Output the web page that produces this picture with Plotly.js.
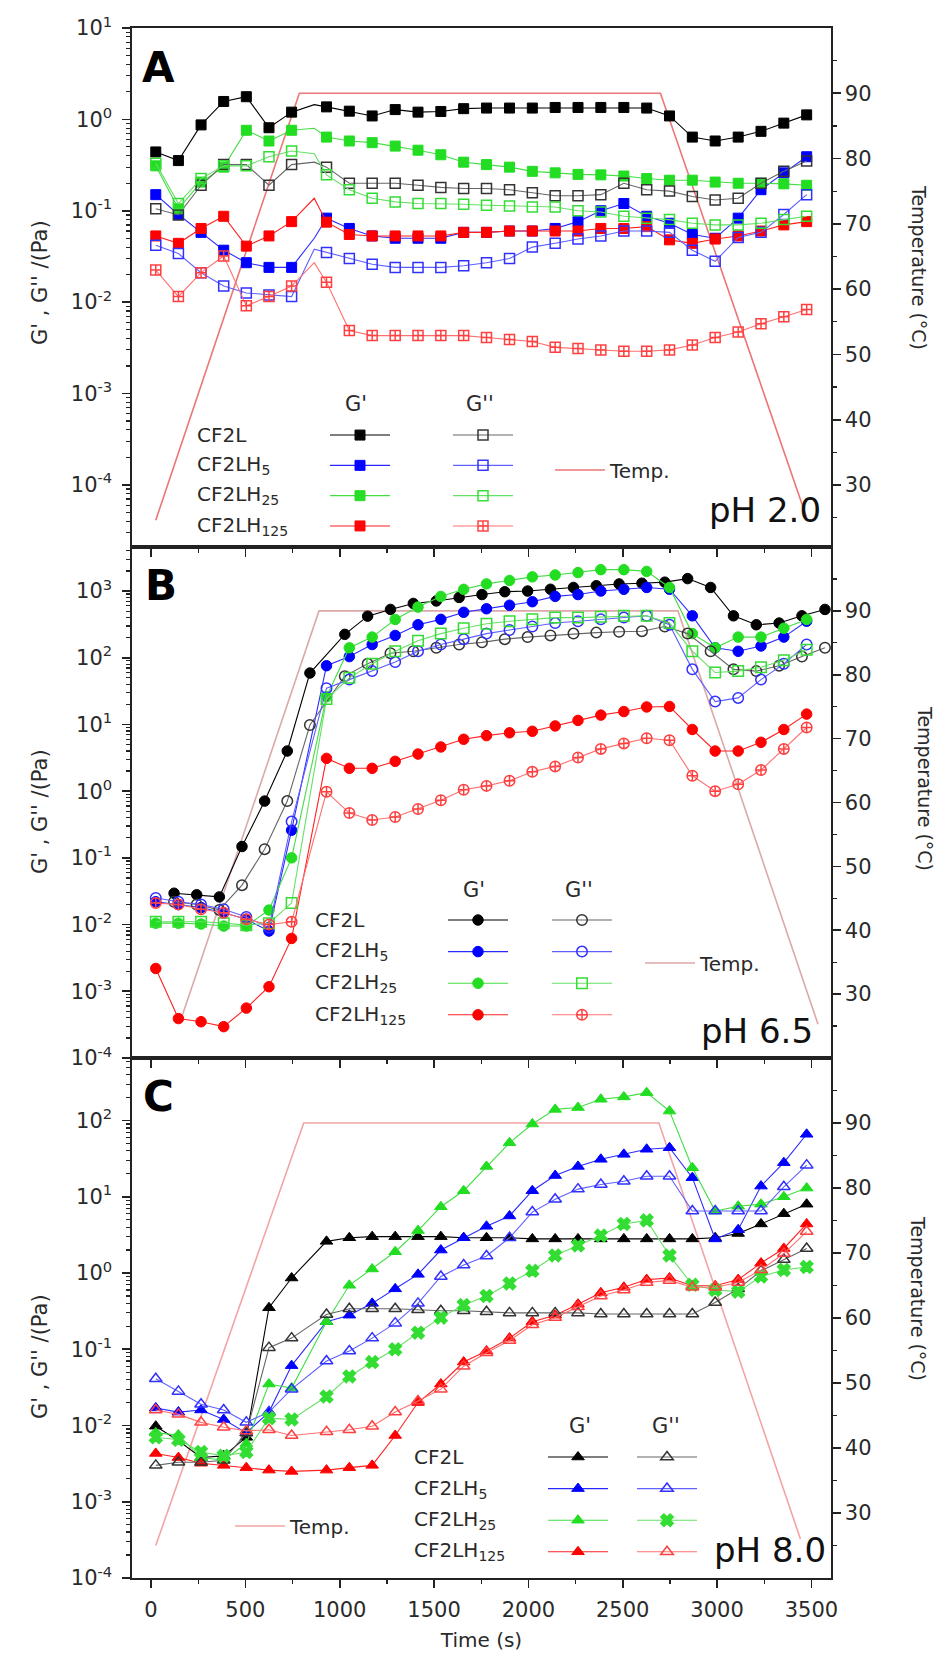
<!DOCTYPE html>
<html><head><meta charset="utf-8">
<script src="https://cdn.plot.ly/plotly-3.0.1.min.js"></script>
<style>html,body{margin:0;padding:0;background:#fff;}#chart{width:944px;height:1659px;}</style>
</head><body><div id="chart"></div>
<script>
// ---------------- DATA ----------------
const SAMPLES = ['CF2L','CF2LH<sub>5</sub>','CF2LH<sub>25</sub>','CF2LH<sub>125</sub>'];
const T   = [25,145,265,385,505,625,745,930,1051,1172,1294,1415,1536,1657,1778,1900,2021,2142,2263,2384,2506,2627,2748,2869,2990,3112,3233,3354,3475];
const T_A = [25,145,265,385,505,625,745,865,930,1051,1172,1294,1415,1536,1657,1778,1900,2021,2142,2263,2384,2506,2627,2748,2869,2990,3112,3233,3354,3475];
const A_LINE_ONLY_TIME = 865;
const T_B_CF2L = [122,242,362,482,602,722,842,1027,1148,1269,1390,1512,1633,1754,1875,1996,2117,2239,2360,2481,2602,2723,2844,2966,3087,3208,3329,3450,3572];

const X_TICKS = [0,500,1000,1500,2000,2500,3000,3500];
const TEMP_TICKS = [30,40,50,60,70,80,90];

// Panel A (pH 2.0)
const A_GP_CF2L  = [0.44,0.354,0.87,1.57,1.77,0.81,1.2,1.45,1.37,1.23,1.09,1.28,1.2,1.22,1.31,1.33,1.33,1.33,1.35,1.35,1.35,1.35,1.33,1.09,0.64,0.58,0.64,0.74,0.91,1.12];
const A_GPP_CF2L = [0.105,0.09,0.19,0.32,0.32,0.19,0.32,0.34,0.30,0.20,0.20,0.20,0.19,0.18,0.175,0.175,0.17,0.157,0.146,0.146,0.15,0.2,0.17,0.164,0.143,0.131,0.137,0.2,0.27,0.35];
const A_GP_H5    = [0.15,0.091,0.058,0.037,0.027,0.024,0.024,0.05,0.083,0.064,0.053,0.05,0.05,0.05,0.058,0.058,0.06,0.06,0.064,0.076,0.1,0.12,0.087,0.073,0.055,0.05,0.083,0.17,0.26,0.39];
const A_GPP_H5   = [0.042,0.034,0.021,0.015,0.0126,0.012,0.0115,0.038,0.035,0.03,0.026,0.024,0.024,0.024,0.025,0.027,0.03,0.04,0.044,0.049,0.053,0.06,0.06,0.058,0.037,0.028,0.051,0.058,0.091,0.15];
const A_GP_H25   = [0.31,0.105,0.206,0.30,0.76,0.58,0.76,0.8,0.64,0.58,0.556,0.51,0.46,0.41,0.34,0.32,0.30,0.27,0.26,0.25,0.247,0.24,0.225,0.216,0.216,0.206,0.2,0.2,0.197,0.19];
const A_GPP_H25  = [0.33,0.12,0.225,0.31,0.31,0.39,0.45,0.42,0.247,0.17,0.137,0.125,0.12,0.12,0.118,0.115,0.113,0.11,0.11,0.1,0.097,0.087,0.083,0.08,0.073,0.07,0.07,0.073,0.08,0.087];
const A_GP_H125  = [0.053,0.044,0.064,0.087,0.041,0.053,0.076,0.137,0.075,0.055,0.053,0.053,0.053,0.053,0.058,0.058,0.06,0.06,0.06,0.06,0.064,0.064,0.067,0.048,0.044,0.049,0.053,0.06,0.07,0.076];
const A_GPP_H125 = [0.0224,0.0115,0.021,0.032,0.0091,0.0115,0.015,0.027,0.0165,0.0049,0.0043,0.0043,0.0043,0.0043,0.0043,0.0041,0.0039,0.0037,0.0032,0.0031,0.003,0.0029,0.0029,0.003,0.0034,0.0041,0.0047,0.0058,0.0069,0.0083];
const TEMP_A_T = [25,786,2700,3475];
const TEMP_A   = [24.6,90,90,25];

// Panel B (pH 6.5)
const B_GP_CF2L  = [0.0295,0.028,0.026,0.148,0.71,4.0,59,224,420,530,652,710,802,885,976,1000,1063,1131,1202,1277,1309,1358,1535,1131,425,312,331,425,530];
const B_GPP_CF2L = [0.022,0.02,0.0166,0.039,0.135,0.71,9.8,53,81,117,125,141,158,170,190,204,216,230,238,245,250,294,230,125,67,63,76,104,141];
const B_GP_H5    = [0.022,0.02,0.018,0.015,0.012,0.008,0.26,76,104,158,216,312,376,480,542,612,692,832,885,1000,1063,1131,1063,425,141,125,150,204,353];
const B_GPP_H5   = [0.025,0.022,0.02,0.017,0.013,0.009,0.35,35,47,63,86,125,158,190,230,260,294,331,353,376,400,425,312,67,22,25,47,81,158];
const B_GP_H25   = [0.0105,0.0105,0.0102,0.0095,0.0095,0.0165,0.1,26,141,204,375,575,830,1060,1280,1440,1630,1740,1890,2090,2090,1970,1130,230,141,204,204,277,375];
const B_GPP_H25  = [0.011,0.011,0.011,0.0105,0.0098,0.0105,0.021,24,50,81,125,180,230,277,324,353,376,400,400,410,425,425,331,125,60,63,72,92,132];
const B_GP_H125  = [0.0022,0.00039,0.00035,0.000295,0.00056,0.00117,0.0062,3.1,2.2,2.2,2.8,3.6,4.6,6,6.8,7.5,7.9,9.5,11.5,13.8,15.6,18.3,18.6,8.4,4,4,5.4,8.4,14.3];
const B_GPP_H125 = [0.021,0.02,0.017,0.015,0.012,0.01,0.011,0.98,0.47,0.37,0.41,0.54,0.73,1.05,1.2,1.43,1.95,2.35,3.2,4.3,5.2,6.2,5.8,1.7,1.0,1.27,2.07,4.3,9.0];
const TEMP_B_T = [166,890,2793,3535];
const TEMP_B   = [26.7,90,90,25.3];

// Panel C (pH 8.0)
const C_GP_CF2L  = [0.0098,0.0063,0.0038,0.004,0.007,0.35,0.86,2.6,2.9,3.0,3.0,3.0,3.0,2.9,2.9,2.9,2.8,2.8,2.8,2.8,2.8,2.8,2.8,2.8,2.9,3.3,4.4,6,8];
const C_GPP_CF2L = [0.003,0.0033,0.0033,0.0035,0.008,0.105,0.14,0.285,0.34,0.34,0.34,0.33,0.32,0.32,0.31,0.3,0.3,0.3,0.3,0.29,0.29,0.29,0.29,0.29,0.41,0.62,1.07,1.5,2.1];
const C_GP_H5    = [0.017,0.015,0.016,0.012,0.008,0.015,0.061,0.23,0.28,0.4,0.62,0.96,2.0,2.9,4.1,5.6,12,19,25,31,36,42,44,17.8,2.8,3.7,13.8,28,66];
const C_GPP_H5   = [0.041,0.028,0.019,0.016,0.011,0.015,0.03,0.07,0.095,0.14,0.22,0.4,0.9,1.27,1.67,2.9,6.3,9.3,12.6,14.5,16,18.6,18.6,6.5,6.5,6.5,6.5,13.5,26];
const C_GP_H25   = [0.008,0.0075,0.0038,0.0035,0.0058,0.035,0.031,0.23,0.69,1.13,1.9,3.6,7.4,12,25,51,90,140,148,190,204,232,133,24,6.5,7.5,8,10,13];
const C_GPP_H25  = [0.007,0.0065,0.0045,0.004,0.0045,0.0125,0.012,0.024,0.044,0.068,0.1,0.165,0.26,0.38,0.5,0.73,1.07,1.7,2.3,3.1,4.4,4.9,1.7,0.7,0.6,0.57,0.9,1.1,1.2];
const C_GP_H125  = [0.0043,0.0038,0.0032,0.003,0.0028,0.0026,0.0025,0.0026,0.0028,0.003,0.0074,0.02,0.035,0.068,0.095,0.14,0.23,0.28,0.39,0.55,0.65,0.82,0.86,0.68,0.68,0.82,1.35,2.1,4.4];
const C_GPP_H125 = [0.016,0.014,0.011,0.0095,0.0085,0.0088,0.0074,0.0083,0.0088,0.0098,0.015,0.021,0.03,0.06,0.09,0.13,0.21,0.26,0.36,0.5,0.6,0.75,0.8,0.65,0.65,0.75,1.1,1.8,3.5];
const TEMP_C_T = [25,809,2692,3442];
const TEMP_C   = [25,90,90,26];

// ---------------- STYLE / LAYOUT ----------------
const FONT = 'DejaVu Sans';
const W = 944, H = 1659, ML = 132, MR = 113, MT = 28, MB = 81;
const PW = W - ML - MR, PH = H - MT - MB;
const px2x = p => (p - ML) / PW;
const py2y = p => 1 - (p - MT) / PH;
const AX = '#222';
const NBSP = '\u00a0';

const COL  = ['#000000', '#0000ff', '#22dd22', '#ff0000'];
const LCOL = ['#000000', '#2a2aff', '#44dd44', '#ff2020'];
const COL2 = ['#333333', '#3030ff', '#33dd33', '#ff4040'];
const LCOL2= ['#666666', '#6060ff', '#66e066', '#ff7070'];

const panels = [
  { xa:'x',  yt:'y',  yl:'y2', dom:[py2y(547), 1], logRange:[-4.68, 1.0], tRange:[20.5, 100],
    gpT:[T_A,T_A,T_A,T_A], gppT:[T_A,T_A,T_A,T_A],
    gp:[A_GP_CF2L,A_GP_H5,A_GP_H25,A_GP_H125], gpp:[A_GPP_CF2L,A_GPP_H5,A_GPP_H25,A_GPP_H125],
    sGP:['square','square','square','square'], sGPP:['square-open','square-open','square-open','square-cross-open'], size:10,
    tempT:TEMP_A_T, temp:TEMP_A, tempCol:'#ec7676',
    legs:['legend','legend2','legend3'], lgp:[325,414.9,21], lgpp:[448,414.9,21], ltemp:[550,450.5,20],
    letter:['A',140,68], ph:['pH 2.0',765,510], hdr:[356,480,404], lab:[195,[435,465,495,526]],
    ttl:[40,282], rttl:[919,267] },
  { xa:'x2', yt:'y3', yl:'y4', dom:[py2y(1058), py2y(547)], logRange:[-4, 3.66], tRange:[20, 100],
    gpT:[T_B_CF2L,T,T,T], gppT:[T_B_CF2L,T,T,T],
    gp:[B_GP_CF2L,B_GP_H5,B_GP_H25,B_GP_H125], gpp:[B_GPP_CF2L,B_GPP_H5,B_GPP_H25,B_GPP_H125],
    sGP:['circle','circle','circle','circle'], sGPP:['circle-open','circle-open','square-open','circle-cross-open'], size:10.5,
    tempT:TEMP_B_T, temp:TEMP_B, tempCol:'#dba9a9',
    legs:['legend4','legend5','legend6'], lgp:[443,899.2,22], lgpp:[547,899.2,22], ltemp:[640,943.5,20],
    letter:['B',143,585], ph:['pH 6.5',757,1031], hdr:[474,579,890], lab:[313,[920,951,983,1015]],
    ttl:[40,811], rttl:[925,788] },
  { xa:'x3', yt:'y5', yl:'y6', dom:[0, py2y(1058)], logRange:[-4, 2.82], tRange:[20, 100],
    gpT:[T,T,T,T], gppT:[T,T,T,T],
    gp:[C_GP_CF2L,C_GP_H5,C_GP_H25,C_GP_H125], gpp:[C_GPP_CF2L,C_GPP_H5,C_GPP_H25,C_GPP_H125],
    sGP:['triangle-up','triangle-up','triangle-up','triangle-up'], sGPP:['triangle-up-open','triangle-up-open','x','triangle-up-open'], size:11,
    tempT:TEMP_C_T, temp:TEMP_C, tempCol:'#f2a4a4',
    legs:['legend7','legend8','legend9'], lgp:[543,1436.2,22], lgpp:[632,1436.2,22], ltemp:[230,1506.5,20],
    letter:['C',141,1096], ph:['pH 8.0',770,1550], hdr:[580,666,1426], lab:[412,[1457,1489,1520,1551]],
    ttl:[40,1356], rttl:[918,1298] }
];

const data = [];
const layout = {
  width: W, height: H, margin:{l:ML, r:MR, t:MT, b:MB, pad:0},
  paper_bgcolor:'#fff', plot_bgcolor:'rgba(0,0,0,0)', showlegend:true, hovermode:false,
  font:{family:FONT, color:AX}, annotations:[]
};

function legendCfg(lx, top, size, iw){
  return {x:px2x(lx), y:py2y(top), xanchor:'left', yanchor:'top', bgcolor:'rgba(0,0,0,0)', borderwidth:0,
          font:{family:FONT, size:size, color:'#2a2a2a'}, itemwidth:iw, tracegroupgap:0, traceorder:'normal',
          itemclick:false, itemdoubleclick:false};
}
function ann(text, x, y, o){
  return Object.assign({text:text, x:px2x(x), y:py2y(y), xref:'paper', yref:'paper', showarrow:false,
    xanchor:'center', yanchor:'middle', font:{family:FONT, size:20, color:'#2a2a2a'}}, o||{});
}

panels.forEach((p, pi) => {
  const xk = p.xa === 'x' ? 'xaxis' : 'xaxis' + p.xa.slice(1);
  const ytk = p.yt === 'y' ? 'yaxis' : 'yaxis' + p.yt.slice(1);
  const ylk = 'yaxis' + p.yl.slice(1);
  const last = pi === panels.length - 1;
  layout[xk] = {anchor:p.yt, domain:[0,1], range:[-101,3604], showline:true, mirror:true, linecolor:AX, linewidth:1.6,
    ticks:'outside', ticklen:8, tickwidth:1.6, tickcolor:AX, tickmode:'array', tickvals:X_TICKS, ticktext:X_TICKS.map(String),
    showticklabels:last, tickfont:{family:FONT, size:21, color:'#2a2a2a'}, ticklabelstandoff:4,
    minor:{tickmode:'linear', tick0:250, dtick:500, ticks:'outside', ticklen:4, tickwidth:1.3, tickcolor:AX, showgrid:false},
    showgrid:false, zeroline:false, automargin:false, fixedrange:true};
  if (last) layout[xk].title = {text:'Time (s)', font:{family:FONT, size:20, color:'#2a2a2a'}, standoff:12};
  layout[ytk] = {anchor:p.xa, domain:p.dom, side:'right', range:p.tRange, showline:true, linecolor:AX, linewidth:1.6,
    ticks:'outside', ticklen:8, tickwidth:1.6, tickcolor:AX, tickmode:'array', tickvals:TEMP_TICKS, ticktext:TEMP_TICKS.map(String),
    tickfont:{family:FONT, size:21, color:'#2a2a2a'},
    minor:{tickmode:'array', tickvals:TEMP_TICKS.map(v => v - 5).concat([95]), ticks:'outside', ticklen:4, tickwidth:1.3, tickcolor:AX, showgrid:false},
    showgrid:false, zeroline:false, automargin:false, fixedrange:true};
  const decades = [], decLabels = [], minors = [];
  for (let e = Math.floor(p.logRange[0]); e <= Math.ceil(p.logRange[1]); e++) {
    if (e >= p.logRange[0] - 1e-9 && e <= p.logRange[1] + 1e-9) { decades.push(Math.pow(10, e)); decLabels.push('10<sup>' + e + '</sup>'); }
    for (let m = 2; m <= 9; m++) minors.push(m * Math.pow(10, e));
  }
  layout[ylk] = {overlaying:p.yt, anchor:p.xa, side:'left', type:'log', range:p.logRange, showline:true, linecolor:AX, linewidth:1.6,
    ticks:'outside', ticklen:8, tickwidth:1.6, tickcolor:AX, tickmode:'array', tickvals:decades, ticktext:decLabels,
    tickfont:{family:FONT, size:21, color:'#2a2a2a'}, ticklabelstandoff:6,
    minor:{tickmode:'array', tickvals:minors, ticks:'outside', ticklen:4, tickwidth:1.2, tickcolor:AX, showgrid:false},
    showgrid:false, zeroline:false, automargin:false, fixedrange:true};

  // temperature line (base subplot, drawn beneath data)
  data.push({type:'scatter', mode:'lines', name:'Temp.', x:p.tempT, y:p.temp, xaxis:p.xa, yaxis:p.yt,
    line:{color:p.tempCol, width:1.6}, legend:p.legs[2]});

  const opac = t => t.map(v => v === A_LINE_ONLY_TIME ? 0 : 1);
  for (let i = 0; i < 4; i++) {
    data.push({type:'scatter', mode:'lines+markers', name:NBSP, x:p.gpT[i], y:p.gp[i], xaxis:p.xa, yaxis:p.yl,
      line:{color:LCOL[i], width:1.1},
      marker:{symbol:p.sGP[i], size:p.size, color:COL[i], opacity:opac(p.gpT[i]), line:{color:COL[i], width:1}},
      legend:p.legs[0]});
  }
  for (let i = 0; i < 4; i++) {
    data.push({type:'scatter', mode:'lines+markers', name:NBSP, x:p.gppT[i], y:p.gpp[i], xaxis:p.xa, yaxis:p.yl,
      line:{color:LCOL2[i], width:1.1},
      marker:{symbol:p.sGPP[i], size:p.size, color:COL2[i], opacity:opac(p.gppT[i]), line:{color:COL2[i], width:1.5}},
      legend:p.legs[1]});
  }
  layout[p.legs[0]] = legendCfg(p.lgp[0], p.lgp[1], p.lgp[2], 60);
  layout[p.legs[1]] = legendCfg(p.lgpp[0], p.lgpp[1], p.lgpp[2], 60);
  layout[p.legs[2]] = legendCfg(p.ltemp[0], p.ltemp[1], p.ltemp[2], 50);

  const A = layout.annotations;
  A.push(ann('<b>' + p.letter[0] + '</b>', p.letter[1], p.letter[2], {xanchor:'left', font:{family:FONT, size:42, color:'#000'}}));
  A.push(ann(p.ph[0], p.ph[1], p.ph[2], {font:{family:FONT, size:34, color:'#111'}}));
  A.push(ann("G'", p.hdr[0], p.hdr[2], {font:{family:FONT, size:21, color:'#2a2a2a'}}));
  A.push(ann("G''", p.hdr[1], p.hdr[2], {font:{family:FONT, size:21, color:'#2a2a2a'}}));
  SAMPLES.forEach((s, k) => A.push(ann(s, p.lab[0], p.lab[1][k], {xanchor:'left', font:{family:FONT, size:20, color:'#2a2a2a'}})));
  A.push(ann("G' , G'' /(Pa)", p.ttl[0], p.ttl[1], {textangle:-90, font:{family:FONT, size:21, color:'#2a2a2a'}}));
  A.push(ann('Temperature (°C)', p.rttl[0], p.rttl[1], {textangle:90, font:{family:FONT, size:19, color:'#2a2a2a'}}));
});

Plotly.newPlot('chart', data, layout, {displayModeBar:false, staticPlot:true});
</script>
</body></html>
